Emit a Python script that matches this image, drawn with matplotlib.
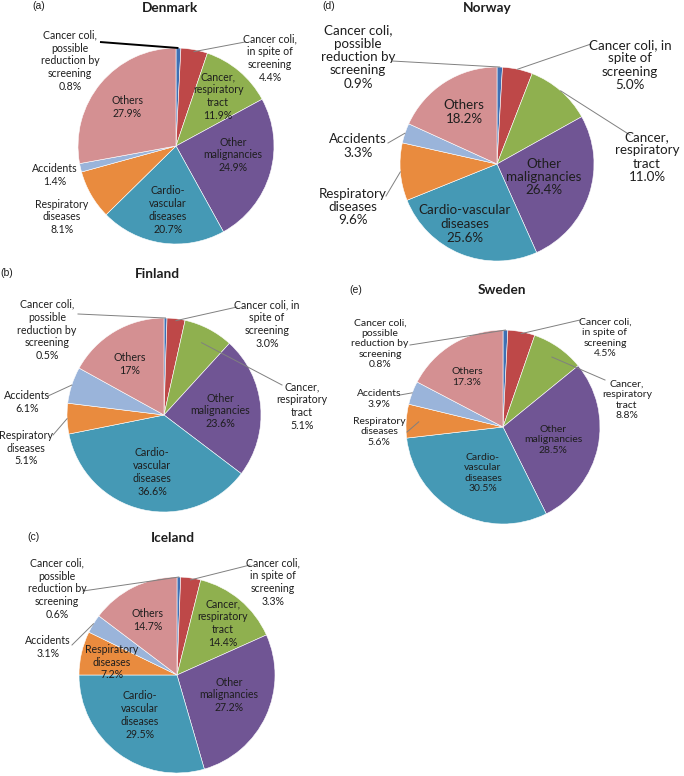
import matplotlib
matplotlib.use("Agg")
import numpy as np
import matplotlib.pyplot as plt

plt.rcParams['font.family'] = ['Lato', 'DejaVu Sans']

W, H = 684, 776

# slice order, clockwise from 12 o'clock
categories = ["Cancer coli, possible reduction by screening", "Cancer coli, in spite of screening",
              "Cancer, respiratory tract", "Other malignancies", "Cardio-vascular diseases",
              "Respiratory diseases", "Accidents", "Others"]
colors = ['#3F70B3', '#BE4848', '#8FB04F', '#705594', '#4599B5', '#E98B3E', '#9AB4DA', '#D49092']

countries = ["Denmark", "Norway", "Finland", "Sweden", "Iceland"]
panel_letters = ["(a)", "(d)", "(b)", "(e)", "(c)"]

denmark_values = [0.8, 4.4, 11.9, 24.9, 20.7, 8.1, 1.4, 27.9]
norway_values = [0.9, 5.0, 11.0, 26.4, 25.6, 9.6, 3.3, 18.2]
# Finland: the green slice is drawn larger than its printed 5.1%
finland_values = [0.5, 3.0, 8.3, 23.6, 36.6, 5.1, 6.1, 17.0]
sweden_values = [0.8, 4.5, 8.8, 28.5, 30.5, 5.6, 3.9, 17.3]
iceland_values = [0.6, 3.3, 14.4, 27.2, 29.5, 7.2, 3.1, 14.7]

denmark_pct = ["0.8%", "4.4%", "11.9%", "24.9%", "20.7%", "8.1%", "1.4%", "27.9%"]
norway_pct = ["0.9%", "5.0%", "11.0%", "26.4%", "25.6%", "9.6%", "3.3%", "18.2%"]
finland_pct = ["0.5%", "3.0%", "5.1%", "23.6%", "36.6%", "5.1%", "6.1%", "17%"]
sweden_pct = ["0.8%", "4.5%", "8.8%", "28.5%", "30.5%", "5.6%", "3.9%", "17.3%"]
iceland_pct = ["0.6%", "3.3%", "14.4%", "27.2%", "29.5%", "7.2%", "3.1%", "14.7%"]

names_default = ["Cancer coli,\npossible\nreduction by\nscreening", "Cancer coli,\nin spite of\nscreening",
                 "Cancer,\nrespiratory\ntract", "Other\nmalignancies", "Cardio-\nvascular\ndiseases",
                 "Respiratory\ndiseases", "Accidents", "Others"]
names_norway = list(names_default)
names_norway[1] = "Cancer coli, in\nspite of\nscreening"
names_norway[4] = "Cardio-vascular\ndiseases"
names_finland = list(names_default)
names_finland[1] = "Cancer coli, in\nspite of\nscreening"

# layout in pixels: pie centre/radius, title, letter, label centres, leaders (start x, start y, frac of radius)
LAYOUT = {
    "Denmark": dict(c=(176, 146), r=98, fs=7.6, title=(170, 8), letter=(39, 6),
                    labels=[(70, 61), (270, 58), (218, 96), (233, 155), (168, 210), (62, 217), (55, 175), (127, 107)],
                    leaders=[(100, 42, 1.0), (245, 42, 0.98), None, None, None, None, None, None]),
    "Norway": dict(c=(497, 164), r=97, fs=9.6, title=(487, 8), letter=(329, 6),
                   labels=[(358, 57), (630, 65), (647, 157), (544, 177), (465, 224), (353, 207), (358, 146), (464, 112)],
                   leaders=[(392, 61, 1.0), (591, 44, 1.0), (630, 135, 1.0), None, None,
                            (386, 196, 1.0), (388, 143, 1.0), None]),
    "Finland": dict(c=(164, 415), r=97, fs=7.7, title=(157, 274), letter=(7, 273),
                    labels=[(47, 330), (267, 324), (302, 406), (220, 411), (152, 472), (26, 448), (27, 402), (130, 364)],
                    leaders=[(78, 314, 1.0), (237, 307, 0.98), (282, 385, 0.84), None, None,
                             (53, 435, 1.0), (48, 396, 1.0), None]),
    "Sweden": dict(c=(503, 427), r=97, fs=7.5, title=(502, 290), letter=(356, 290),
                   labels=[(380, 344), (605, 338), (627, 400), (553, 440), (483, 473), (379, 432), (379, 399), (467, 377)],
                   leaders=[(410, 345, 1.0), (580, 320, 0.98), (605, 380, 0.88), None, None,
                            (407, 432, 0.87), (400, 395, 1.0), None]),
    "Iceland": dict(c=(177, 675), r=98, fs=7.6, title=(173, 538), letter=(33, 537),
                    labels=[(57, 589), (273, 582), (223, 623), (229, 695), (140, 715), (112, 662), (48, 647), (148, 620)],
                    leaders=[(83, 591, 1.0), (250, 565, 0.98), None, None, None, None, (72, 645, 1.0), None]),
}

values = dict(zip(countries, [denmark_values, norway_values, finland_values, sweden_values, iceland_values]))
pcts = dict(zip(countries, [denmark_pct, norway_pct, finland_pct, sweden_pct, iceland_pct]))
names = dict(zip(countries, [names_default, names_norway, names_finland, names_default, names_default]))

fig = plt.figure(figsize=(W / 100, H / 100), dpi=100)
ax = fig.add_axes([0, 0, 1, 1])
text_color = '#1e1e1e'

for country, letter in zip(countries, panel_letters):
    lay = LAYOUT[country]
    cx, cy = lay['c']
    r = lay['r']
    # y axis is inverted, so counterclock=True reads clockwise on screen
    wedges, _ = ax.pie(values[country], colors=colors, startangle=-90, counterclock=True,
                       center=(cx, cy), radius=r, wedgeprops=dict(edgecolor='white', linewidth=0.4))

    for i, w in enumerate(wedges):
        lx, ly = lay['labels'][i]
        ax.text(lx, ly, names[country][i] + "\n" + pcts[country][i], ha='center', va='center',
                fontsize=lay['fs'], color=text_color, linespacing=1.15 if country == "Norway" else 1.2,
                multialignment='center')
        lead = lay['leaders'][i]
        if lead is not None:
            sx, sy, f = lead
            mid = np.deg2rad((w.theta1 + w.theta2) / 2)
            tx, ty = cx + f * r * np.cos(mid), cy + f * r * np.sin(mid)
            if country == "Denmark" and i == 0:
                ax.plot([sx, tx], [sy, ty], color='black', lw=1.4, solid_capstyle='butt')
            else:
                ax.plot([sx, tx], [sy, ty], color='#808080', lw=0.7)

    ax.text(lay['title'][0], lay['title'][1], country, ha='center', va='center',
            fontsize=9.8, fontweight='bold', color=text_color)
    ax.text(lay['letter'][0], lay['letter'][1], letter, ha='center', va='center',
            fontsize=7.5, color=text_color, family='Liberation Sans')

ax.set_xlim(0, W)
ax.set_ylim(H, 0)
ax.set_aspect('equal')
ax.axis('off')

fig.savefig("out.png", dpi=100)
